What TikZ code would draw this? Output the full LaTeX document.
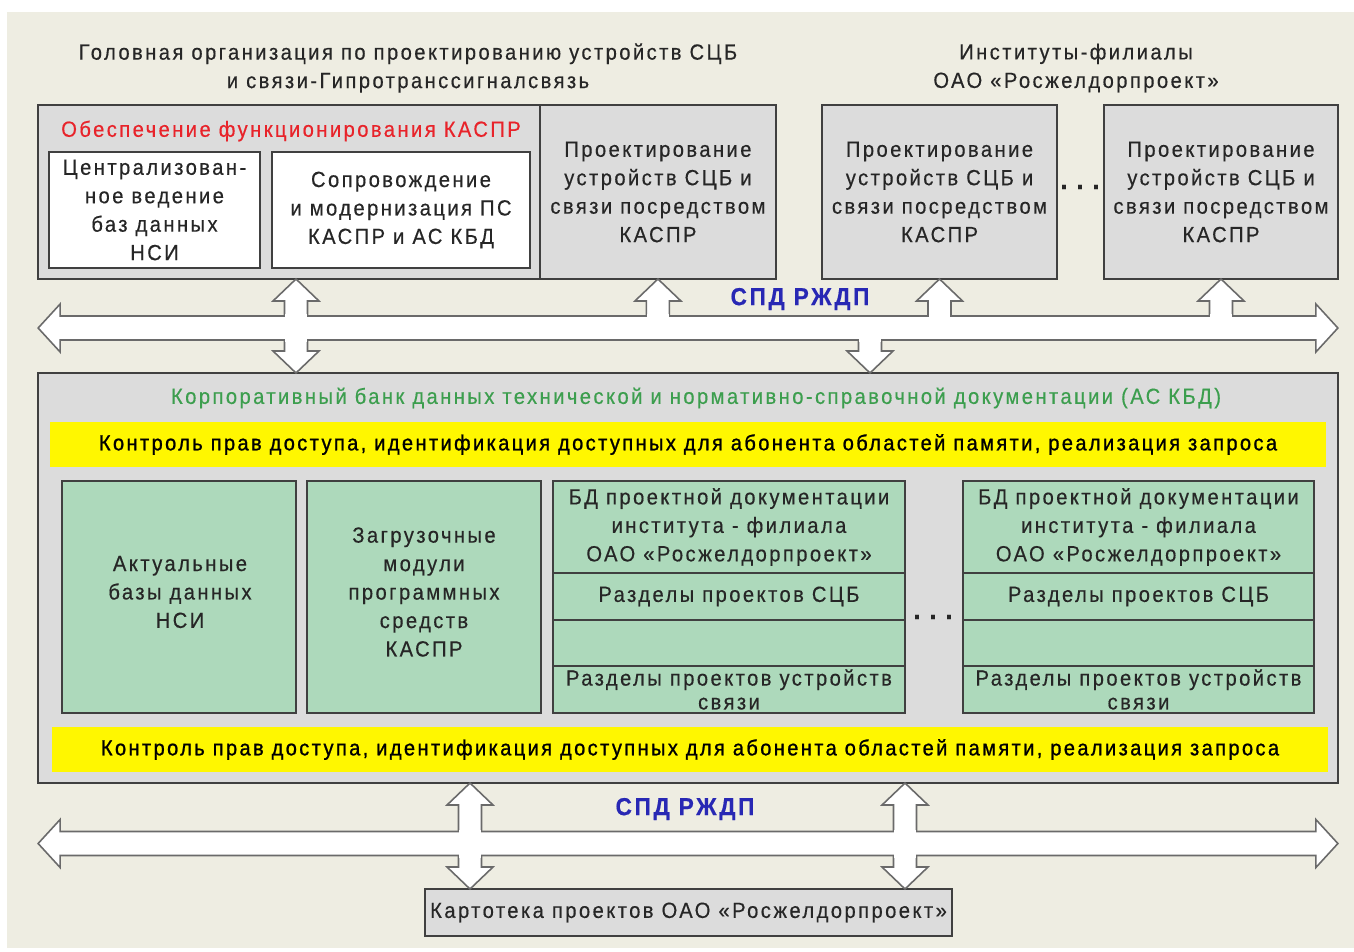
\documentclass[tikz,border=0pt]{standalone}
\usepackage{fontspec}
\setmainfont{Liberation Sans}[LetterSpace=11, FakeStretch=0.92, FakeBold=0.4]
\usepackage{xcolor}
\usetikzlibrary{positioning,calc}

\definecolor{paper}{HTML}{EEEDE2}
\definecolor{boxgray}{HTML}{DCDCDC}
\definecolor{boxline}{HTML}{404040}
\definecolor{pipeline}{HTML}{6A6A6A}
\definecolor{ink}{HTML}{262626}
\definecolor{dbgreen}{HTML}{ADD9BB}
\definecolor{bandyellow}{HTML}{FFF700}
\definecolor{kasprred}{HTML}{E8232A}
\definecolor{kbdgreen}{HTML}{3C9E4E}
\definecolor{spdblue}{HTML}{2828B4}

% vertical arrow from a box to the bus: tip, bus centre, 1 = up / -1 = down
\newcommand{\netlink}[3]{%
  \filldraw[pipe] ($(#1|-#2)+(-11.5,0)$) -- ($(#1)+(-11.5,{22*#3})$)
    -- ($(#1)+(-23,{22*#3})$) -- (#1) -- ($(#1)+(23,{22*#3})$)
    -- ($(#1)+(11.5,{22*#3})$) -- ($(#1|-#2)+(11.5,0)$);}
% opens the bus outline where a vertical arrow joins it
\newcommand{\netjoin}[3]{%
  \fill[white] ($(#1|-#2)+(-10.8,{-14*#3})$) rectangle ($(#1|-#2)+(10.8,0)$);}
% horizontal double arrow between two tips
\newcommand{\netbus}[2]{%
  \filldraw[pipe] (#1) -- ($(#1)+(22,-24)$) -- ($(#1)+(22,-12)$)
    -- ($(#2)+(-22,-12)$) -- ($(#2)+(-22,-24)$) -- (#2)
    -- ($(#2)+(-22,24)$) -- ($(#2)+(-22,12)$) -- ($(#1)+(22,12)$)
    -- ($(#1)+(22,24)$) -- cycle;}

\begin{document}
\begin{tikzpicture}[x=0.02cm, y=-0.02cm, node distance=0pt,
  font=\fontsize{12.5}{16.2}\selectfont]
  \tikzstyle{box}=[draw=boxline, line width=1.1pt, rectangle,
    inner sep=0pt, outer sep=0pt, align=center, text=ink]
  \tikzstyle{graybox}=[box, fill=boxgray, minimum height=3.48cm]
  \tikzstyle{whitebox}=[box, fill=white, minimum height=2.32cm]
  \tikzstyle{dbbox}=[box, fill=dbgreen]
  \tikzstyle{band}=[rectangle, fill=bandyellow, inner sep=0pt,
    minimum width=25.52cm, minimum height=0.9cm, text=black,
    font=\fontsize{12.4}{16}\selectfont\addfontfeatures{FakeBold=1}]
  \tikzstyle{caption}=[align=center, text=ink, inner sep=0pt]
  \tikzstyle{spd}=[text=spdblue, inner sep=0pt,
    font=\fontsize{14}{16}\selectfont\bfseries]
  \tikzstyle{dots}=[text=ink, inner sep=0pt,
    font=\fontsize{16}{16}\selectfont\bfseries]
  \tikzstyle{pipe}=[draw=pipeline, fill=white, line width=0.9pt,
    line join=miter]

  \useasboundingbox (0,0) rectangle (1354,951);
  \fill[paper] (7,12) rectangle (1354,948);

  % head organisation and institutes
  \node[caption] (headt) at (408,68)
    {Головная организация по проектированию устройств СЦБ\\
     и связи-Гипротранссигналсвязь};
  \node[caption] (instt) at (1076,68)
    {Институты-филиалы\\ОАО «Росжелдорпроект»};

  \node[graybox, minimum width=10.04cm] (kaspr) at (289,192) {};
  \node[text=kasprred, inner sep=0pt] (kasprt) at (291,131)
    {Обеспечение функционирования КАСПР};
  \node[whitebox, minimum width=4.22cm] (nsi) at (154.5,210)
    {Централизован-\\ное ведение\\баз данных\\НСИ};
  \node[whitebox, minimum width=5.16cm] (sopr) at (401,210)
    {Сопровождение\\и модернизация ПС\\КАСПР и АС КБД};
  \node[graybox, minimum width=4.72cm] (proj0) [right=0pt of kaspr]
    {Проектирование\\устройств СЦБ и\\связи посредством\\КАСПР};
  \node[graybox, minimum width=4.7cm] (proj1) at (939.5,192)
    {Проектирование\\устройств СЦБ и\\связи посредством\\КАСПР};
  \node[graybox, minimum width=4.68cm] (proj2) at (1221,192)
    {Проектирование\\устройств СЦБ и\\связи посредством\\КАСПР};
  \node[dots] (dots1) at (1080,187) {.\hspace{5pt}.\hspace{5pt}.};

  % corporate data bank
  \node[box, fill=boxgray, minimum width=26cm, minimum height=8.2cm]
    (kbd) at (688,578) {};
  \node[text=kbdgreen, inner sep=0pt] (kbdt) at (696,398)
    {Корпоративный банк данных технической и нормативно-справочной документации (АС КБД)};
  \node[band] (band1) at (688,444.5)
    {Контроль прав доступа, идентификация доступных для абонента областей памяти, реализация запроса};
  \node[band] (band2) at (690,749.5)
    {Контроль прав доступа, идентификация доступных для абонента областей памяти, реализация запроса};

  \node[dbbox, minimum width=4.68cm, minimum height=4.64cm] (actual)
    at (179,597) {};
  \node[caption] (actualt) at (180,592) {Актуальные\\базы данных\\НСИ};
  \node[dbbox, minimum width=4.68cm, minimum height=4.64cm] (loader)
    [right=0.22cm of actual] {};
  \node[caption] (loadert) at (424,592)
    {Загрузочные\\модули\\программных\\средств\\КАСПР};

  \node[dbbox, minimum width=7.04cm, minimum height=1.84cm] (c1)
    at (729,527) {БД проектной документации\\института - филиала\\ОАО «Росжелдорпроект»};
  \node[dbbox, minimum width=7.04cm, minimum height=0.94cm] (c2)
    [below=of c1] {Разделы проектов СЦБ};
  \node[dbbox, minimum width=7.04cm, minimum height=0.92cm] (c3)
    [below=of c2] {};
  \node[dbbox, minimum width=7.04cm, minimum height=0.94cm,
    font=\fontsize{12.5}{13.6}\selectfont] (c4)
    [below=of c3] {Разделы проектов устройств\\связи};

  \node[dbbox, minimum width=7.02cm, minimum height=1.84cm] (d1)
    at (1138.5,527) {БД проектной документации\\института - филиала\\ОАО «Росжелдорпроект»};
  \node[dbbox, minimum width=7.02cm, minimum height=0.94cm] (d2)
    [below=of d1] {Разделы проектов СЦБ};
  \node[dbbox, minimum width=7.02cm, minimum height=0.92cm] (d3)
    [below=of d2] {};
  \node[dbbox, minimum width=7.02cm, minimum height=0.94cm,
    font=\fontsize{12.5}{13.6}\selectfont] (d4)
    [below=of d3] {Разделы проектов устройств\\связи};
  \node[dots] (dots2) at (933,617) {.\hspace{5pt}.\hspace{5pt}.};

  % project card index
  \node[box, fill=boxgray, minimum width=10.54cm, minimum height=0.94cm]
    (kart) at (688.5,912.5) {Картотека проектов ОАО «Росжелдорпроект»};

  % upper network
  \coordinate (n1) at (688,328);
  \coordinate (a0) at (296,279);
  \coordinate (b0) at (296,373);
  \coordinate (b1) at (870,373);
  \coordinate (w1) at (kbd.west |- n1);
  \coordinate (e1) at (kbd.east |- n1);
  \netlink{a0}{n1}{1}
  \netlink{b0}{n1}{-1}
  \netlink{b1}{n1}{-1}
  \foreach \p in {proj0,proj1,proj2}
    \netlink{\p.south}{n1}{1};
  \netbus{w1}{e1}
  \netjoin{a0}{n1}{1}
  \netjoin{b0}{n1}{-1}
  \netjoin{b1}{n1}{-1}
  \foreach \p in {proj0,proj1,proj2}
    \netjoin{\p.south}{n1}{1};
  \node[spd] (spd1) at (800,299) {СПД РЖДП};

  % lower network
  \coordinate (n2) at (688,843.5);
  \coordinate (u1) at (470,783);
  \coordinate (u2) at (905,783);
  \coordinate (l1) at (470,889);
  \coordinate (l2) at (905,889);
  \coordinate (w2) at (kbd.west |- n2);
  \coordinate (e2) at (kbd.east |- n2);
  \netlink{u1}{n2}{1}
  \netlink{u2}{n2}{1}
  \netlink{l1}{n2}{-1}
  \netlink{l2}{n2}{-1}
  \netbus{w2}{e2}
  \netjoin{u1}{n2}{1}
  \netjoin{u2}{n2}{1}
  \netjoin{l1}{n2}{-1}
  \netjoin{l2}{n2}{-1}
  \node[spd] (spd2) at (685,809) {СПД РЖДП};
\end{tikzpicture}
\end{document}
